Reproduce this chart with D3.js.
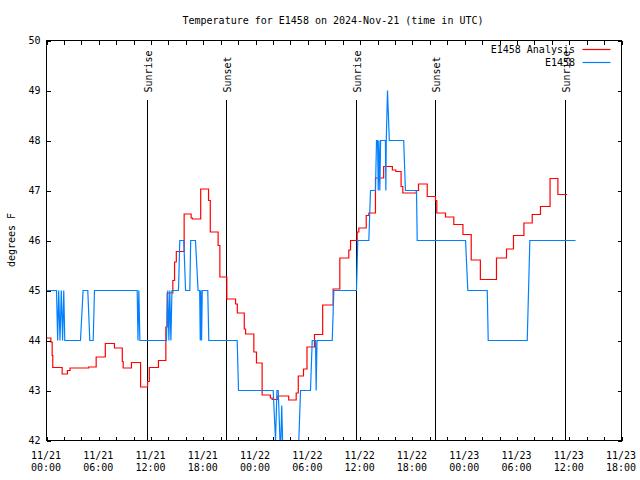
<!DOCTYPE html>
<html>
<head>
<meta charset="utf-8">
<script src="https://cdn.jsdelivr.net/npm/d3@7"></script>
<style>
  html, body { margin: 0; padding: 0; background: #fff; }
  svg { display: block; }
  text { font-family: "DejaVu Sans Mono", "Liberation Mono", monospace; font-size: 10px; fill: #000; }
</style>
</head>
<body>
<svg id="chart" width="640" height="480"></svg>
<script>
// ---- data (hours after 2024-11-21 00:00 UTC) ----
const chartTitle = "Temperature for E1458 on 2024-Nov-21 (time in UTC)";
const yLabel = "degrees F";
const yTickValues = [42, 43, 44, 45, 46, 47, 48, 49, 50];

const analysisHours = [0, 0.5, 0.65, 0.72, 1.8, 2.4, 2.7, 4.85, 5.7, 6.75, 7.8, 8.7, 8.8, 9.75, 10.8, 11.6, 11.8, 12.85,
  13.7, 13.85, 14.5, 14.7, 14.9, 15.8, 16.6, 16.75, 17.7, 18.6, 18.8, 19.7, 19.9, 20.7, 21.7, 21.9, 22.7, 22.85,
  23.8, 24.1, 24.75, 25.7, 25.9, 26.55, 27.8, 28.66, 28.9, 29.5, 29.9, 30.76, 31.7, 32.9, 33.67, 34.7, 34.9,
  35.66, 35.85, 36.7, 37.0, 37.76, 38.7, 39.7, 40.1, 40.7, 40.9, 42.45, 42.7, 43.7, 44.65, 44.8, 45.8, 46.75,
  47.8, 48.75, 49.8, 51.65, 52.8, 53.6, 54.8, 55.75, 56.7, 57.8, 58.7, 59.76];
const analysisTemps = [44.05, 43.97, 43.7, 43.46, 43.33, 43.40, 43.45, 43.47, 43.67, 43.94, 43.85, 43.58, 43.45, 43.56,
  43.07, 43.18, 43.46, 43.6, 44.27, 44.95, 45.2, 45.57, 45.78, 46.53, 46.45, 46.43, 47.03, 46.8, 46.17, 45.9, 45.27,
  44.83, 44.73, 44.55, 44.23, 44.13, 43.77, 43.55, 42.91, 42.85, 42.82, 42.89, 42.81, 42.95, 43.29, 43.43, 43.87,
  44.12, 44.71, 45.03, 45.65, 45.81, 46.0, 46.17, 46.25, 46.5, 46.55, 47.25, 47.48, 47.41, 47.38, 47.08, 46.95,
  47.0, 47.13, 46.88, 46.8, 46.55, 46.47, 46.32, 46.12, 45.61, 45.22, 45.65, 45.83, 46.1, 46.35, 46.52, 46.68,
  47.24, 46.92, 46.92];

const obsHours = [0, 1.15, 1.28, 1.4, 1.55, 1.7, 1.85, 1.98, 2.1, 3.9, 4.2, 4.74, 4.97, 5.36, 5.51, 10.41, 10.5, 10.6,
  10.72, 13.77, 13.92, 14.05, 14.15, 14.28, 14.4, 15.15, 15.3, 15.76, 15.96, 16.45, 16.55, 17.1, 17.4, 17.58, 17.65,
  17.72, 17.8, 17.88, 18.51, 18.63, 21.89, 22.04, 26.02, 26.29, 26.45, 26.6, 26.8, 26.9, 27.0, 27.1, 28.96, 29.16,
  30.3, 30.5, 30.88, 30.95, 31.05, 32.8, 32.98, 35.58, 35.73, 37.0, 37.19, 37.76, 37.88, 38.0, 38.08, 38.16, 38.26,
  38.35, 38.9, 38.95, 39.0, 39.14, 39.35, 41.0, 41.2, 42.47, 42.55, 48.1, 48.36, 50.59, 50.7, 55.18, 55.48, 60.72];
const obsTemps = [45, 45, 44, 45, 44, 45, 44, 45, 44, 44, 45, 45, 44, 44, 45, 45, 44, 45,
  44, 44, 45, 44, 45, 44, 45, 45, 46, 46, 45, 45, 46, 46, 45, 45, 44,
  45, 44, 45, 45, 44, 44, 43, 43, 42, 43, 43, 42, 42, 42.7, 42, 42, 43,
  43, 44, 44, 43, 44, 44, 45, 45, 46, 46, 47, 47, 48, 48, 47, 48, 47,
  48, 48, 47, 48, 49, 48, 48, 47, 47, 46, 46, 45, 45, 44, 44, 46, 46];

const sunHours = [11.59, 20.66, 35.6, 44.66, 59.62];
const sunLabels = ["Sunrise", "Sunset", "Sunrise", "Sunset", "Sunrise"];

const seriesNames = ["E1458 Analysis", "E1458"];
const seriesColors = ["#ff0000", "#0080ff"];

// ---- setup ----
const t0 = Date.UTC(2024, 10, 21, 0);
const toDate = h => new Date(t0 + h * 3600000);
const startDate = toDate(0), endDate = toDate(66);

const L = 46, R = 621, T = 40, B = 440;
const svg = d3.select("#chart");
const x = d3.scaleUtc().domain([startDate, endDate]).range([L, R]);
const y = d3.scaleLinear().domain([42, 50]).range([B, T]);

const g = svg.append("g").attr("transform", "translate(0.5,0.5)");

// title
svg.append("text").attr("x", 333).attr("y", 24).attr("text-anchor", "middle").text(chartTitle);
// y label
svg.append("text").attr("transform", "translate(15,240) rotate(-90)").attr("text-anchor", "middle").text(yLabel);

// clip
svg.append("clipPath").attr("id", "clip").append("rect").attr("x", L).attr("y", T).attr("width", R - L).attr("height", B - T);

// sunrise/sunset lines
const sunG = g.append("g");
sunHours.forEach((h, i) => {
  const sx = Math.round(x(toDate(h)));
  sunG.append("line").attr("x1", sx).attr("x2", sx).attr("y1", 99).attr("y2", B)
    .attr("stroke", "#000").attr("stroke-width", 1).attr("shape-rendering", "crispEdges");
  sunG.append("text").attr("transform", `translate(${sx + 4},92) rotate(-90)`)
    .attr("text-anchor", "start").text(sunLabels[i]);
});

// series
const analysis = analysisHours.map((h, i) => [toDate(h), analysisTemps[i]]);
const obs = obsHours.map((h, i) => [toDate(h), obsTemps[i]]);
const stepLine = d3.line().x(d => x(d[0])).y(d => y(d[1])).curve(d3.curveStepAfter);
const linLine = d3.line().x(d => x(d[0])).y(d => y(d[1]));

const plotG = g.append("g").attr("clip-path", "url(#clip)");
plotG.append("path").datum(analysis).attr("d", stepLine).attr("fill", "none")
  .attr("stroke", seriesColors[0]).attr("stroke-width", 1.2);
plotG.append("path").datum(obs).attr("d", linLine).attr("fill", "none")
  .attr("stroke", seriesColors[1]).attr("stroke-width", 1.2);

// axes (ticks inward)
const tick2h = d3.utcHour.every(2).range(startDate, new Date(+endDate + 1));
const label6h = d3.utcHour.every(6).range(startDate, new Date(+endDate + 1));
const fmtDay = d3.utcFormat("%m/%d"), fmtTime = d3.utcFormat("%H:%M");

function styleAxis(sel) {
  sel.select(".domain").remove();
  sel.selectAll("line").attr("stroke", "#000").attr("shape-rendering", "crispEdges");
}
g.append("g").attr("transform", `translate(0,${B})`)
  .call(d3.axisBottom(x).tickValues(tick2h).tickSizeInner(-4).tickSizeOuter(0).tickFormat(""))
  .call(styleAxis);
g.append("g").attr("transform", `translate(0,${T})`)
  .call(d3.axisTop(x).tickValues(tick2h).tickSizeInner(-4).tickSizeOuter(0).tickFormat(""))
  .call(styleAxis);
g.append("g").attr("transform", `translate(${L},0)`)
  .call(d3.axisLeft(y).tickValues(yTickValues).tickSizeInner(-4).tickSizeOuter(0).tickPadding(6))
  .call(styleAxis)
  .selectAll("text").attr("font-family", "DejaVu Sans Mono").attr("font-size", 10);
g.append("g").attr("transform", `translate(${R},0)`)
  .call(d3.axisRight(y).tickValues(yTickValues).tickSizeInner(-4).tickSizeOuter(0).tickFormat(""))
  .call(styleAxis);

// x labels (two lines)
const xl = svg.append("g");
label6h.forEach(d => {
  const t = xl.append("text").attr("x", x(d)).attr("y", 459).attr("text-anchor", "middle");
  t.append("tspan").attr("x", x(d)).attr("y", 459).text(fmtDay(d));
  t.append("tspan").attr("x", x(d)).attr("y", 471).text(fmtTime(d));
});

// frame
g.append("rect").attr("x", L).attr("y", T).attr("width", R - L).attr("height", B - T)
  .attr("fill", "none").attr("stroke", "#000").attr("shape-rendering", "crispEdges");

// legend
const legY = [49, 62];
seriesNames.forEach((n, i) => {
  svg.append("text").attr("x", 575).attr("y", legY[i] + 4).attr("text-anchor", "end").text(n);
  g.append("line").attr("x1", 582).attr("x2", 610).attr("y1", legY[i]).attr("y2", legY[i])
    .attr("stroke", seriesColors[i]).attr("stroke-width", 1.2);
});
</script>
</body>
</html>
